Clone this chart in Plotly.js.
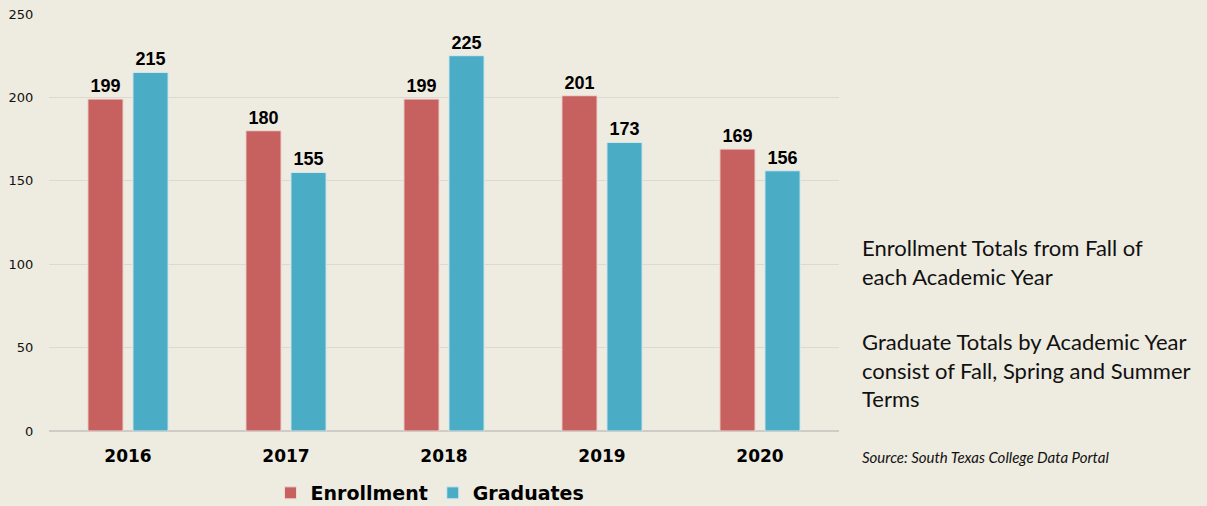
<!DOCTYPE html>
<html><head><meta charset="utf-8">
<script src="https://cdn.plot.ly/plotly-3.0.1.min.js"></script>
<style>html,body{margin:0;padding:0;background:#EEEBE0;}#chart{width:1207px;height:506px;}</style>
</head><body><div id="chart"></div>
<script>
const years = ['2016','2017','2018','2019','2020'];
const enrollment = [199, 180, 199, 201, 169];
const graduates = [215, 155, 225, 173, 156];
const yTicks = [0, 50, 100, 150, 200, 250];

const L = 49, R = 839, T = 14, B = 431, W = 1207, H = 506;
const px = x => (x - L) / (R - L);
const py = y => (B - y) / (B - T);

const labelFont = {family: '"Liberation Sans Narrow", "Liberation Sans", Arial, sans-serif', size: 18, color: '#000', weight: 'bold'};

const traces = [
  {type: 'bar', name: 'Enrollment', x: years, y: enrollment, text: enrollment.map(String),
   textposition: 'outside', textfont: labelFont, cliponaxis: false,
   marker: {color: '#C66160', line: {color: '#F0D8D4', width: 1}}},
  {type: 'bar', name: 'Graduates', x: years, y: graduates, text: graduates.map(String),
   textposition: 'outside', textfont: labelFont, cliponaxis: false,
   marker: {color: '#4BACC6', line: {color: '#D6EAF0', width: 1}}}
];

const txtFont = {family: 'Lato, "Open Sans", sans-serif', size: 22, color: '#111'};
const layout = {
  width: W, height: H,
  paper_bgcolor: '#EEEBE0', plot_bgcolor: '#EEEBE0',
  margin: {l: L, r: W - R, t: T, b: H - B, pad: 0, autoexpand: false},
  barmode: 'group', bargap: 0.43, bargroupgap: 0.22,
  showlegend: true,
  legend: {orientation: 'h', x: px(430), xanchor: 'center', y: py(493), yanchor: 'middle',
           font: {family: '"DejaVu Sans", sans-serif', size: 19, color: '#000', weight: 'bold'},
           itemwidth: 30, tracegroupgap: 0, bgcolor: 'rgba(0,0,0,0)'},
  xaxis: {type: 'category', tickfont: {family: '"DejaVu Sans", sans-serif', size: 17, color: '#000', weight: 'bold'},
          ticks: 'outside', ticklen: 10, tickcolor: 'rgba(0,0,0,0)', showline: false, showgrid: false},
  yaxis: {range: [0, 250], tickvals: yTicks, ticktext: yTicks.map(String),
          tickfont: {family: '"DejaVu Sans", sans-serif', size: 13, color: '#111'},
          ticks: 'outside', ticklen: 12, tickcolor: 'rgba(0,0,0,0)',
          gridcolor: '#DCD9D2', gridwidth: 1, zeroline: true, zerolinecolor: '#CFCCC8', zerolinewidth: 1.5,
          showline: false},
  annotations: [
    {xref: 'paper', yref: 'paper', x: px(860), y: py(262), xanchor: 'left', yanchor: 'middle', align: 'left',
     showarrow: false, font: txtFont, text: 'Enrollment Totals from Fall of<br>each Academic Year'},
    {xref: 'paper', yref: 'paper', x: px(860), y: py(370), xanchor: 'left', yanchor: 'middle', align: 'left',
     showarrow: false, font: txtFont, text: 'Graduate Totals by Academic Year<br>consist of Fall, Spring and Summer<br>Terms'},
    {xref: 'paper', yref: 'paper', x: px(860), y: py(457), xanchor: 'left', yanchor: 'middle', align: 'left',
     showarrow: false, font: {family: 'Lato, "Open Sans", sans-serif', size: 15, color: '#111'},
     text: '<i>Source: South Texas College Data Portal</i>'}
  ]
};
Plotly.newPlot('chart', traces, layout, {displayModeBar: false, staticPlot: true});
</script></body></html>
